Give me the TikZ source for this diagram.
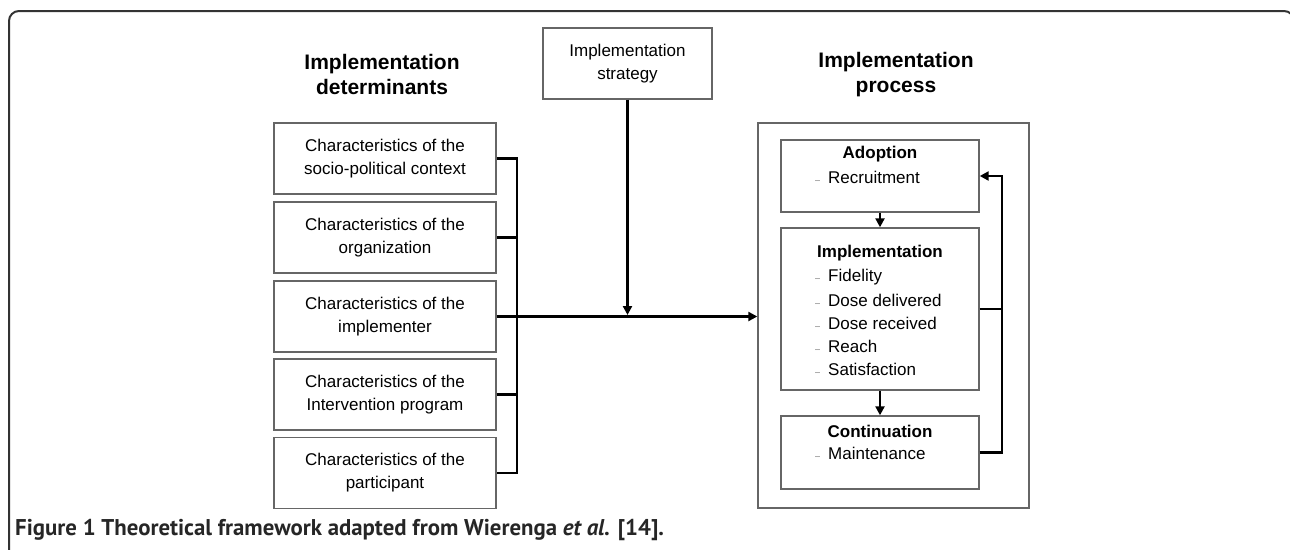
\documentclass[tikz,border=0pt]{standalone}
\usepackage{fontspec}
\setmainfont{Liberation Sans}
\newfontfamily\capfont{PT Sans}
\usepackage{tikz}
\usetikzlibrary{arrows.meta}

\newcommand{\dashmark}{{\color{black!55}\fontsize{9}{9}\selectfont –}\hspace{8pt}}

\begin{document}
\begin{tikzpicture}
  [x=1pt,y=-1pt,
   detbox/.style={draw=black!60,line width=1.4pt,minimum width=222pt,minimum height=71pt,
     align=center,inner sep=0pt,font=\fontsize{17}{23}\selectfont},
   stagebox/.style={draw=black!60,line width=1.4pt,minimum width=198pt,inner sep=0pt},
   title/.style={align=center,font=\fontsize{21}{25}\selectfont\bfseries},
   head/.style={font=\fontsize{17}{20}\selectfont\bfseries,inner sep=0pt},
   item/.style={anchor=west,font=\fontsize{17}{20}\selectfont,inner sep=0pt},
   conn/.style={line width=2.6pt,black},
   tip/.style={-{Triangle[length=9pt,width=9pt]}}]

  \useasboundingbox (0,0) rectangle (1290,549);
  \draw[black!80,line width=2pt,rounded corners=10pt] (9,560) -- (9,11) -- (1294,11) -- (1294,560);

  % titles
  \node[title] (dettitle) at (382,74.5) {Implementation\\determinants};
  \node[title] (proctitle) at (896,74.5) {Implementation\\process};

  % determinants
  \node[detbox] (det1) at (385,158.5) {Characteristics of the\\socio-political context};
  \node[detbox] (det2) at (385,237.5) {Characteristics of the\\organization};
  \node[detbox] (det3) at (385,316.5) {Characteristics of the\\implementer};
  \node[detbox] (det4) at (385,394.5) {Characteristics of the\\Intervention program};
  \node[detbox] (det5) at (385,473) {Characteristics of the\\participant};

  \node[detbox,minimum width=169pt] (strat) at (627.5,63.5) {Implementation\\strategy};

  % process
  \node[draw=black!60,line width=1.4pt,minimum width=271pt,minimum height=385pt] (proc) at (893.5,315.5) {};
  \node[stagebox,minimum height=72pt] (adopt) at (880,176) {};
  \node[stagebox,minimum height=162pt] (impl) at (880,309) {};
  \node[stagebox,minimum height=73pt] (cont) at (880,452.5) {};

  \node[head] (adopthead) at (880,154) {Adoption};
  \node[item] (adoptitem) at (815,177) {\dashmark Recruitment};
  \node[head] (implhead) at (880,253) {Implementation};
  \foreach \txt [count=\i] in {Fidelity,Dose delivered,Dose received,Reach,Satisfaction}
    \node[item] (implitem\i) at (815,254+23*\i) {\dashmark\txt};
  \node[head] (conthead) at (880,431) {Continuation};
  \node[item] (contitem) at (815,453) {\dashmark Maintenance};

  % connectors
  \coordinate (bx) at (517,316.5);
  \coordinate (fb) at (1002,309);
  \draw[conn] (det1.east) -- (det1.east -| bx) -- (det5.east -| bx) -- (det5.east);
  \foreach \d in {det2,det4}
    \draw[conn] (\d.east) -- (\d.east -| bx);
  \draw[conn,tip] (det3.east) -- (det3.east -| proc.west);
  \draw[conn,tip,shorten >=1.5pt] (strat.south) -- (strat.south |- det3.east);

  \foreach \from/\to in {adopt/impl,impl/cont}
    \draw[conn,tip] (\from) -- (\to);
  \draw[conn,tip] (cont.east) -- (cont.east -| fb) -- (adopt.east -| fb) -- (adopt.east);
  \draw[conn] (impl.east) -- (fb);

  % caption
  \node[anchor=west,inner sep=0pt,font=\capfont\fontsize{22.8}{24}\selectfont\bfseries,text=black!85] (caption) at (15,530)
    {Figure 1 Theoretical framework adapted from Wierenga \textit{et al.} [14].};
\end{tikzpicture}
\end{document}
